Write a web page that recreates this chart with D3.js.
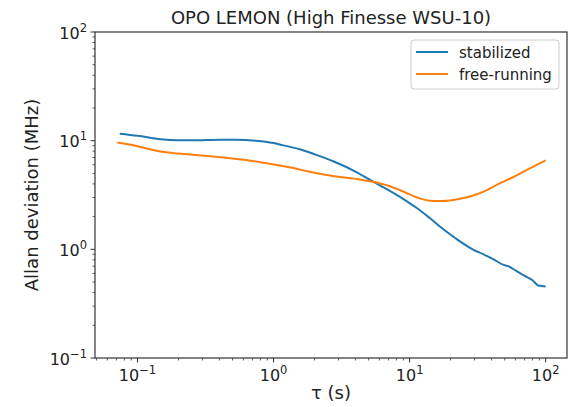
<!DOCTYPE html>
<html><head><meta charset="utf-8">
<script src="https://cdn.jsdelivr.net/npm/d3@7"></script>
<style>body{margin:0;background:#fff}svg{display:block}text{font-family:"DejaVu Sans",sans-serif;fill:#222}</style>
</head><body><svg id="c" width="571" height="407"></svg>
<script>
const stabTau = [0.074,0.1,0.148,0.2,0.27,0.4,0.53,0.74,1.0,1.16,1.58,2.0,2.8,4.0,5.3,7.0,9.0,11.3,14,17.8,22,29.5,35,42,49,53,60,70,80,88,93,100];
const stabVal = [11.6,11.1,10.3,10.1,10.1,10.2,10.2,10.0,9.5,9.1,8.3,7.5,6.4,5.2,4.25,3.5,2.9,2.4,1.95,1.52,1.25,0.99,0.9,0.8,0.72,0.70,0.64,0.57,0.52,0.465,0.46,0.455];
const freeTau = [0.071,0.1,0.144,0.2,0.3,0.45,0.7,1.03,1.4,1.8,2.8,4.3,5.3,7.0,8.5,10,12,14,16.8,21,26,32,37,45,58,75,100];
const freeVal = [9.6,8.9,8.0,7.6,7.3,6.95,6.5,6.0,5.6,5.2,4.7,4.4,4.2,3.85,3.5,3.2,2.93,2.8,2.78,2.85,3.0,3.25,3.5,4.0,4.63,5.5,6.6];
const xTickExp = [-1,0,1,2];
const yTickExp = [-1,0,1,2];
const seriesNames = ["stabilized","free-running"];
const colors = ["#1f77b4","#ff7f0e"];
const title = "OPO LEMON (High Finesse WSU-10)";
const xLabel = "τ (s)";
const yLabel = "Allan deviation (MHz)";

const svg = d3.select("#c");
const L=95,R=567,T=32,B=358;
const x = d3.scaleLog().domain([0.0487,143.5]).range([L,R]);
const y = d3.scaleLog().domain([0.1,100]).range([B,T]);

function minors(dom){const out=[];for(let e=Math.floor(Math.log10(dom[0]));e<=Math.ceil(Math.log10(dom[1]));e++){for(let m=2;m<=9;m++){const v=m*Math.pow(10,e);if(v>=dom[0]&&v<=dom[1])out.push(v);}}return out;}
const axCol="#333";
const g=svg.append("g");
minors(x.domain()).forEach(v=>g.append("line").attr("x1",x(v)).attr("x2",x(v)).attr("y1",B).attr("y2",B+2.5).attr("stroke",axCol).attr("stroke-width",0.8));
minors(y.domain()).forEach(v=>g.append("line").attr("y1",y(v)).attr("y2",y(v)).attr("x1",L).attr("x2",L-2.5).attr("stroke",axCol).attr("stroke-width",0.8));
xTickExp.forEach(e=>{const v=Math.pow(10,e);g.append("line").attr("x1",x(v)).attr("x2",x(v)).attr("y1",B).attr("y2",B+4.5).attr("stroke",axCol).attr("stroke-width",1);
 const t=g.append("text").attr("x",x(v)).attr("y",B+23).attr("text-anchor","middle").attr("font-size",16);
 t.append("tspan").text("10");t.append("tspan").attr("dy",-7).attr("font-size",11.5).text(e<0?"−"+(-e):String(e));});
yTickExp.forEach(e=>{const v=Math.pow(10,e);g.append("line").attr("y1",y(v)).attr("y2",y(v)).attr("x1",L).attr("x2",L-4.5).attr("stroke",axCol).attr("stroke-width",1);
 const t=g.append("text").attr("x",L-8).attr("y",y(v)+6.5).attr("text-anchor","end").attr("font-size",16);
 t.append("tspan").text("10");t.append("tspan").attr("dy",-7).attr("font-size",11.5).text(e<0?"−"+(-e):String(e));});

svg.append("defs").append("clipPath").attr("id","cp").append("rect").attr("x",L).attr("y",T).attr("width",R-L).attr("height",B-T);
const line=d3.line().x(d=>x(d[0])).y(d=>y(d[1])).curve(d3.curveMonotoneX);
const data=[d3.zip(stabTau,stabVal),d3.zip(freeTau,freeVal)];
data.forEach((d,i)=>svg.append("path").attr("d",line(d)).attr("fill","none").attr("stroke",colors[i]).attr("stroke-width",2).attr("clip-path","url(#cp)"));

svg.append("rect").attr("x",L).attr("y",T).attr("width",R-L).attr("height",B-T).attr("fill","none").attr("stroke",axCol).attr("stroke-width",1.2);

const lg=svg.append("g");
lg.append("rect").attr("x",411).attr("y",40).attr("width",148).attr("height",49).attr("rx",3).attr("fill","#fff").attr("fill-opacity",0.8).attr("stroke","#ccc").attr("stroke-width",1);
seriesNames.forEach((n,i)=>{const yy=52+i*22;lg.append("line").attr("x1",416).attr("x2",448).attr("y1",yy).attr("y2",yy).attr("stroke",colors[i]).attr("stroke-width",2);
 lg.append("text").attr("x",459).attr("y",yy+5.5).attr("font-size",15).text(n);});

svg.append("text").attr("x",(L+R)/2).attr("y",24).attr("text-anchor","middle").attr("font-size",18).text(title);
svg.append("text").attr("x",(L+R)/2).attr("y",399).attr("text-anchor","middle").attr("font-size",18).text(xLabel);
svg.append("text").attr("transform",`translate(38,${(T+B)/2}) rotate(-90)`).attr("text-anchor","middle").attr("font-size",18).text(yLabel);
</script></body></html>
